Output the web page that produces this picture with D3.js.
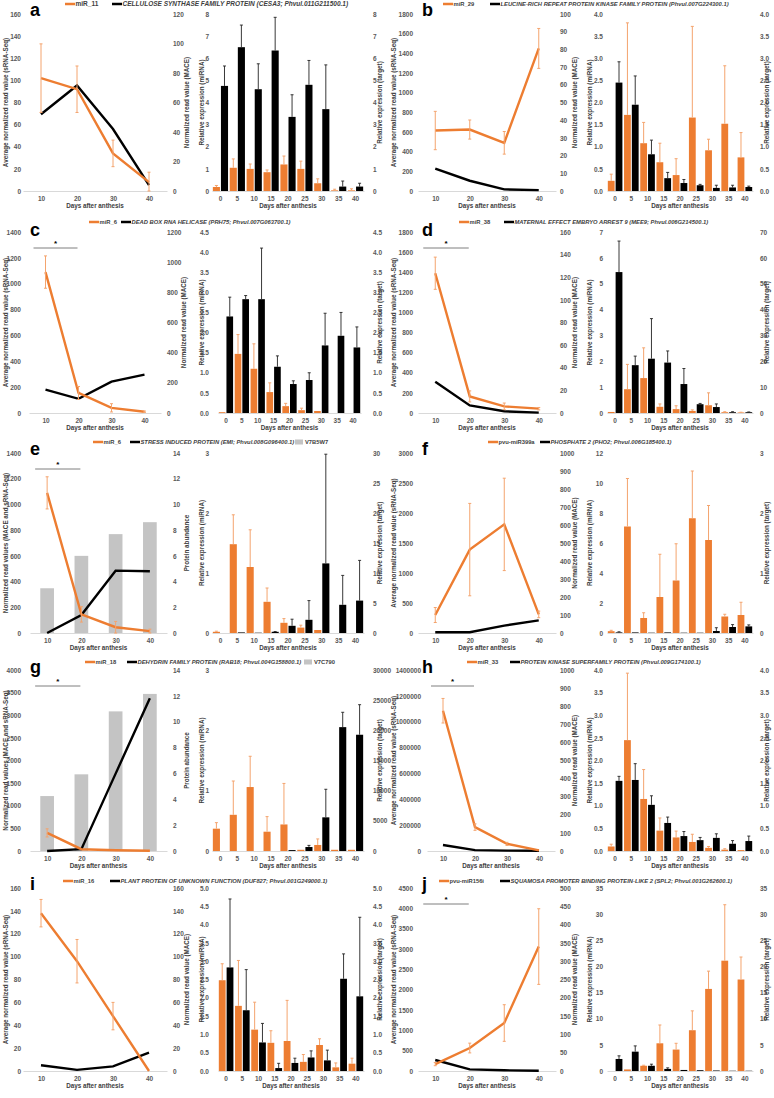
<!DOCTYPE html>
<html><head><meta charset="utf-8">
<script src="https://cdn.jsdelivr.net/npm/d3@7"></script>
<style>body{margin:0;background:#fff} text{font-family:"Liberation Sans",Arial,sans-serif}</style>
</head><body>
<script>
// ---------- shared categories ----------
const lineDays = ["10","20","30","40"];
const barDays = ["0","5","10","15","20","25","30","35","40"];

// ---------- panel a ----------
const aMir = "miR_11";
const aGene = "CELLULOSE SYNTHASE FAMILY PROTEIN (CESA3; Phvul.011G211500.1)";
const aLineMir = [102, 92, 34, 8];
const aLineMirErr = [31, 21, 12, 9];
const aLineTgt = [52, 71.5, 42, 4];
const aBarMir = [0.18,1.05,1.0,0.85,1.2,1.0,0.35,0.03,0.03];
const aBarMirErr = [0.07,0.4,0.22,0.1,0.38,0.35,0.2,0.05,0.07];
const aBarTgt = [4.75,6.5,4.6,6.35,3.35,4.8,3.7,0.2,0.2];
const aBarTgtErr = [0.9,1.0,1.15,1.5,1.0,1.1,2.0,0.25,0.15];
const aTicks = {lineL:[160,20], lineR:[120,20], barL:[8,1], barR:[8,1]};

// ---------- panel b ----------
const bMir = "miR_29";
const bGene = "LEUCINE-RICH REPEAT PROTEIN KINASE FAMILY PROTEIN (Phvul.007G224300.1)";
const bLineMir = [615, 625, 490, 1450];
const bLineMirErr = [195, 97, 115, 203];
const bLineTgt = [12.7, 5.8, 0.9, 0.5];
const bBarMir = [0.23,1.72,1.08,0.65,0.36,1.66,0.92,1.52,0.76];
const bBarMirErr = [0.15,2.08,0.47,0.43,0.37,2.06,0.25,1.31,0.56];
const bBarTgt = [2.45,1.95,0.83,0.29,0.18,0.13,0.07,0.08,0.09];
const bBarTgtErr = [0.47,0.65,0.32,0.13,0.08,0.02,0.06,0.05,0.02];
const bTicks = {lineL:[1800,200], lineR:[100,10], barL:[4,0.5,1], barR:[4,0.5,1]};

// ---------- panel c ----------
const cMir = "miR_6";
const cGene = "DEAD BOX RNA HELICASE (PRH75; Phvul.007G063700.1)";
const cLineMir = [1090, 155, 40, 10];
const cLineMirErr = [125, 50, 32, 5];
const cLineTgt = [155, 94, 208, 254];
const cBarMir = [0.02,1.47,1.1,0.52,0.17,0.07,0.05,0,0];
const cBarMirErr = [0,0.48,0.62,0.23,0.07,0.05,0,0,0];
const cBarTgt = [2.4,2.83,2.83,1.15,0.72,0.82,1.68,1.92,1.63];
const cBarTgtErr = [0.48,0.09,1.27,0.27,0.08,0.18,0.8,0.58,0.51];
const cTicks = {lineL:[1400,200], lineR:[1200,200], barL:[4.5,0.5,1], barR:[4.5,0.5,1]};

// ---------- panel d ----------
const dMir = "miR_38";
const dGene = "MATERNAL EFFECT EMBRYO ARREST 9 (MEE9; Phvul.006G214500.1)";
const dLineMir = [1390, 165, 66, 43];
const dLineMirErr = [160, 55, 33, 12];
const dLineTgt = [27.7, 6.7, 1.5, 0.3];
const dBarMir = [0.04,0.92,1.35,0.24,0.15,0.08,0.3,0.03,0.02];
const dBarMirErr = [0,0.96,1.17,0.11,0.13,0.04,0.48,0.02,0.01];
const dBarTgt = [54.5,18.5,21,19.5,11.2,3.4,2.3,0.3,0.3];
const dBarTgtErr = [12,3.5,15.5,4.5,6,0.3,1.2,0.2,0.1];
const dTicks = {lineL:[1800,200], lineR:[160,20], barL:[7,1], barR:[70,10]};

// ---------- panel e ----------
const eMir = "miR_6";
const eGene = "STRESS INDUCED PROTEIN (EMI; Phvul.008G096400.1)";
const eProt = "V7B5W7";
const eProtAbund = [3.48, 6.0, 7.69, 8.62];
const eLineMir = [1090, 145, 45, 15];
const eLineMirErr = [125, 60, 45, 15];
const eLineTgt = [0, 140, 485, 480];
const eBarMir = [0.02,1.48,1.1,0.52,0.17,0.09,0.05,0,0];
const eBarMirErr = [0.01,0.49,0.62,0.23,0.07,0.04,0,0,0];
const eBarTgt = [0,0.1,0.05,0.2,1.2,2.2,11.6,4.7,5.4];
const eBarTgtErr = [0,0,0,0.05,1.1,3.2,18.2,4.9,6.7];
const eTicks = {lineL:[1400,200], lineR:[14,2], barL:[3,1], barR:[30,5]};

// ---------- panel f ----------
const fMir = "pvu-miR399a";
const fGene = "PHOSPHATE 2 (PHO2; Phvul.006G185400.1)";
const fLineMir = [300, 1390, 1810, 310];
const fLineMirErr = [125, 770, 770, 55];
const fLineTgt = [4, 4, 41, 70];
const fBarMir = [0.12,7.1,1.0,2.4,3.5,7.65,6.2,1.1,1.2];
const fBarMirErr = [0.06,3.2,0.35,2.85,2.45,3.15,2.3,0.15,0.85];
const fBarTgt = [0.01,0.01,0.005,0.01,0.005,0.005,0.033,0.1,0.11];
const fBarTgtErr = [0.01,0,0,0,0,0,0.055,0.04,0.025];
const fTicks = {lineL:[3000,500], lineR:[1000,100], barL:[12,2], barR:[3,1]};

// ---------- panel g ----------
const gMir = "miR_18";
const gGene = "DEHYDRIN FAMILY PROTEIN (RAB18; Phvul.004G158800.1)";
const gProt = "V7C790";
const gProtAbund = [4.25, 5.93, 10.8, 12.15];
const gLineMir = [400, 40, 15, 5];
const gLineMirErr = [90, 0, 0, 0];
const gLineTgt = [0, 40, 1710, 3375];
const gBarMir = [0.37,0.6,1.06,0.32,0.44,0.02,0.1,0.02,0.02];
const gBarMirErr = [0.1,0.56,0.51,0.25,0.68,0,0.1,0,0];
const gBarTgt = [0,0,0,0,150,660,5580,20530,19270];
const gBarTgtErr = [0,0,0,0,0,270,4650,2460,4980];
const gTicks = {lineL:[4000,500], lineR:[14,2], barL:[3,1], barR:[30000,5000]};

// ---------- panel h ----------
const hMir = "miR_33";
const hGene = "PROTEIN KINASE SUPERFAMILY PROTEIN (Phvul.009G174100.1)";
const hLineMir = [1085000, 185000, 55000, 5000];
const hLineMirErr = [95000, 25000, 12000, 0];
const hLineTgt = [33, 5, 2, 1];
const hBarMir = [0.1,2.45,1.15,0.45,0.3,0.2,0.07,0.03,0.02];
const hBarMirErr = [0.05,1.48,0.65,0.28,0.14,0.17,0.03,0.02,0];
const hBarTgt = [1.55,1.57,1.02,0.62,0.33,0.24,0.29,0.16,0.22];
const hBarTgtErr = [0.1,0.36,0.2,0.13,0.1,0.06,0.09,0.07,0.11];
const hTicks = {lineL:[1400000,200000], lineR:[1000,100], barL:[4,0.5,1], barR:[4,0.5,1]};

// ---------- panel i ----------
const iMir = "miR_16";
const iGene = "PLANT PROTEIN OF UNKNOWN FUNCTION (DUF827; Phvul.001G249000.1)";
const iLineMir = [138, 96, 48, 0];
const iLineMirErr = [12, 19, 12, 0];
const iLineTgt = [5, 1, 4, 16];
const iBarMir = [2.48,1.78,1.13,0.77,0.82,0.25,0.71,0.1,0.2];
const iBarMirErr = [0.45,1.24,0.75,0.33,1.11,0.2,0.17,0.12,0.15];
const iBarTgt = [2.83,1.66,0.78,0.08,0.22,0.37,0.29,2.52,2.04];
const iBarTgtErr = [1.87,1.11,0.52,0.13,0.13,0.18,0.28,0.68,2.16];
const iTicks = {lineL:[160,20], lineR:[160,20], barL:[5,0.5,1], barR:[5,0.5,1]};

// ---------- panel j ----------
const jMir = "pvu-miR156i";
const jGene = "SQUAMOSA PROMOTER BINDING PROTEIN-LIKE 2 (SPL2; Phvul.001G262600.1)";
const jLineMir = [170, 565, 1180, 3060];
const jLineMirErr = [40, 120, 450, 930];
const jLineTgt = [30, 4.5, 2, 0.5];
const jBarMir = [0,0.3,1.0,5.3,4.1,7.8,15.7,21.1,17.5];
const jBarMirErr = [0,0,0.1,3.5,1.2,3.7,3.4,10.7,4.3];
const jBarTgt = [2.3,3.7,1.0,0.4,0.2,0.15,0.1,0.05,0.05];
const jBarTgtErr = [0.6,1.1,0.3,0.2,0,0,0,0,0];
const jTicks = {lineL:[4500,500], lineR:[500,50], barL:[35,5], barR:[35,5]};

// ---------- titles ----------
const tLineL = "Average normalized read value (sRNA-Seq)";
const tLineLProt = "Normalized read values (MACE and sRNA-Seq)";
const tLineR = "Normalized read value (MACE)";
const tLineRProt = "Protein abundance";
const tBarL = "Relative expression (miRNA)";
const tBarR = "Relative expression (target)";
const tX = "Days after anthesis";

const panels = [
  {id:"a", mir:aMir, gene:aGene, lm:aLineMir, lme:aLineMirErr, lt:aLineTgt, bm:aBarMir, bme:aBarMirErr, bt:aBarTgt, bte:aBarTgtErr, ticks:aTicks},
  {id:"b", mir:bMir, gene:bGene, lm:bLineMir, lme:bLineMirErr, lt:bLineTgt, bm:bBarMir, bme:bBarMirErr, bt:bBarTgt, bte:bBarTgtErr, ticks:bTicks},
  {id:"c", mir:cMir, gene:cGene, lm:cLineMir, lme:cLineMirErr, lt:cLineTgt, bm:cBarMir, bme:cBarMirErr, bt:cBarTgt, bte:cBarTgtErr, ticks:cTicks, sig:true},
  {id:"d", mir:dMir, gene:dGene, lm:dLineMir, lme:dLineMirErr, lt:dLineTgt, bm:dBarMir, bme:dBarMirErr, bt:dBarTgt, bte:dBarTgtErr, ticks:dTicks, sig:true},
  {id:"e", mir:eMir, gene:eGene, prot:eProt, pa:eProtAbund, lm:eLineMir, lme:eLineMirErr, lt:eLineTgt, bm:eBarMir, bme:eBarMirErr, bt:eBarTgt, bte:eBarTgtErr, ticks:eTicks, sig:true},
  {id:"f", mir:fMir, gene:fGene, lm:fLineMir, lme:fLineMirErr, lt:fLineTgt, bm:fBarMir, bme:fBarMirErr, bt:fBarTgt, bte:fBarTgtErr, ticks:fTicks},
  {id:"g", mir:gMir, gene:gGene, prot:gProt, pa:gProtAbund, lm:gLineMir, lme:gLineMirErr, lt:gLineTgt, bm:gBarMir, bme:gBarMirErr, bt:gBarTgt, bte:gBarTgtErr, ticks:gTicks, sig:true},
  {id:"h", mir:hMir, gene:hGene, lm:hLineMir, lme:hLineMirErr, lt:hLineTgt, bm:hBarMir, bme:hBarMirErr, bt:hBarTgt, bte:hBarTgtErr, ticks:hTicks, sig:true},
  {id:"i", mir:iMir, gene:iGene, lm:iLineMir, lme:iLineMirErr, lt:iLineTgt, bm:iBarMir, bme:iBarMirErr, bt:iBarTgt, bte:iBarTgtErr, ticks:iTicks},
  {id:"j", mir:jMir, gene:jGene, lm:jLineMir, lme:jLineMirErr, lt:jLineTgt, bm:jBarMir, bme:jBarMirErr, bt:jBarTgt, bte:jBarTgtErr, ticks:jTicks, sig:true}
];

// ---------- layout (positions only) ----------
const rowTop = [14, 232, 453, 670, 888];
const rowBot = [191, 413, 633, 851, 1071];
const rowLegend = [4, 222, 442, 662, 881];
const rowLetter = [16, 236, 455, 673, 890];
const colLayout = [
  {lineX:[23,167], lLab:21, lTitle:6, rLab:173, rTitle:187, barX:[212,364], bLab:209, bTitle:202, brLab:373, brTitle:380, letterX:30},
  {lineX:[418,556], lLab:413, lTitle:394, rLab:560, rTitle:575, barX:[607,753], bLab:603, bTitle:590, brLab:760, brTitle:767, letterX:422}
];
const overrides = {
  c:{lineX:[29,161], rLab:167, rTitle:184, barX:[218,361]},
  e:{lineX:[30,167]},
  g:{lineX:[30,167]},
  h:{lineX:[427,555], lLab:421},
  i:{barX:[218,364]}
};
const legendX = {a:[65,112], b:[443,490], c:[89,121], d:[459,504], e:[93,130,295], f:[488,540], g:[85,127,304], h:[467,510], i:[63,110], j:[439,500]};
const legendFont = {a:6.5};

const ORANGE = "#ED7D31", ORANGE_ERR = "#F4A46E", GRAY_BAR = "#C4C4C4", AXIS = "#D9D9D9", TXT = "#595959";

const svg = d3.select("body").append("svg").attr("width", 774).attr("height", 1098);

function ticksOf(spec){ return d3.range(0, spec[0] + spec[1]/2, spec[1]); }
function fmtOf(spec){ return spec[2] ? d3.format(".1f") : d3.format("d"); }

function yAxis(g, scale, spec, x, side){
  const ax = (side === "left" ? d3.axisLeft(scale) : d3.axisRight(scale))
    .tickValues(ticksOf(spec)).tickFormat(fmtOf(spec)).tickSize(0).tickPadding(0);
  const a = g.append("g").attr("transform", `translate(${x},0)`).call(ax);
  a.select(".domain").remove();
  a.selectAll("text").attr("fill", TXT).style("font-size", "6.5px").style("font-weight", "bold").attr("dy", "0.33em");
}
function xAxis(g, scale, y){
  const a = g.append("g").attr("transform", `translate(0,${y})`)
    .call(d3.axisBottom(scale).tickSize(0).tickSizeOuter(0).tickPadding(5));
  a.select(".domain").attr("stroke", AXIS).attr("stroke-width", 1);
  a.selectAll("text").attr("fill", TXT).style("font-size", "6.5px").style("font-weight", "bold");
}
function vTitle(g, text, x, cy){
  g.append("text").attr("transform", `translate(${x},${cy}) rotate(-90)`)
    .attr("text-anchor", "middle").attr("dy", "0.35em")
    .attr("fill", "#404040").style("font-size", "6.3px").style("font-weight", "bold").text(text);
}
function hTitle(g, text, cx, y){
  g.append("text").attr("x", cx).attr("y", y).attr("text-anchor", "middle")
    .attr("fill", "#404040").style("font-size", "6.3px").style("font-weight", "bold").text(text);
}

panels.forEach((p, idx) => {
  const col = idx % 2, row = Math.floor(idx / 2);
  const L = Object.assign({}, colLayout[col], overrides[p.id] || {});
  const top = rowTop[row], bot = rowBot[row], mid = (top + bot) / 2;
  const g = svg.append("g");

  // panel letter
  g.append("text").attr("x", L.letterX).attr("y", rowLetter[row])
    .style("font-size", "18px").style("font-weight", "bold").attr("fill", "#000").text(p.id);

  // legend
  const lx = legendX[p.id], ly = rowLegend[row], lf = (legendFont[p.id] || 5.8) + "px";
  g.append("line").attr("x1", lx[0]).attr("x2", lx[0] + 10).attr("y1", ly).attr("y2", ly).attr("stroke", ORANGE).attr("stroke-width", 2.5);
  g.append("text").attr("x", lx[0] + 10.5).attr("y", ly).attr("dy", "0.35em").style("font-size", lf).style("font-weight", "bold").attr("fill", "#404040").text(p.mir);
  g.append("line").attr("x1", lx[1]).attr("x2", lx[1] + 10).attr("y1", ly).attr("y2", ly).attr("stroke", "#000").attr("stroke-width", 2.5);
  g.append("text").attr("x", lx[1] + 10.5).attr("y", ly).attr("dy", "0.35em").style("font-size", lf).style("font-weight", "bold").style("font-style", "italic").attr("fill", "#404040").text(p.gene);
  if (p.prot) {
    g.append("rect").attr("x", lx[2]).attr("y", ly - 2.5).attr("width", 8).attr("height", 5).attr("fill", GRAY_BAR);
    g.append("text").attr("x", lx[2] + 10).attr("y", ly).attr("dy", "0.35em").style("font-size", lf).style("font-weight", "bold").attr("fill", "#404040").text(p.prot);
  }

  // ---------- line chart ----------
  const x = d3.scalePoint().domain(lineDays).range(L.lineX).padding(0.5);
  const yL = d3.scaleLinear().domain([0, p.ticks.lineL[0]]).range([bot, top]);
  const yR = d3.scaleLinear().domain([0, p.ticks.lineR[0]]).range([bot, top]);
  const yTgt = p.prot ? yL : yR;

  if (p.prot) {
    const gw = x.step() * 0.4;
    g.selectAll(null).data(lineDays).enter().append("rect")
      .attr("x", d => x(d) - gw/2).attr("width", gw)
      .attr("y", (d,i) => yR(p.pa[i])).attr("height", (d,i) => bot - yR(p.pa[i]))
      .attr("fill", GRAY_BAR);
  }
  xAxis(g, x, bot);
  yAxis(g, yL, p.ticks.lineL, L.lLab, "left");
  yAxis(g, yR, p.ticks.lineR, L.rLab, "right");
  vTitle(g, p.prot ? tLineLProt : tLineL, L.lTitle, mid);
  vTitle(g, p.prot ? tLineRProt : tLineR, L.rTitle, mid);
  hTitle(g, tX, (L.lineX[0] + L.lineX[1]) / 2, bot + 17);

  g.append("path").datum(lineDays.map((k,i) => ({k, v:p.lt[i]})))
    .attr("d", d3.line().x(d => x(d.k)).y(d => yTgt(d.v))).attr("fill", "none").attr("stroke", "#000").attr("stroke-width", 2.4);
  g.append("path").datum(lineDays.map((k,i) => ({k, v:p.lm[i]})))
    .attr("d", d3.line().x(d => x(d.k)).y(d => yL(d.v))).attr("fill", "none").attr("stroke", ORANGE).attr("stroke-width", 2.4);
  lineDays.forEach((k,i) => {
    const e = p.lme[i]; if (!e) return;
    const cx = x(k), y1 = yL(Math.max(0, p.lm[i] - e)), y2 = yL(p.lm[i] + e);
    g.append("line").attr("x1", cx).attr("x2", cx).attr("y1", y1).attr("y2", y2).attr("stroke", ORANGE_ERR).attr("stroke-width", 1);
    [y1, y2].forEach(yy => g.append("line").attr("x1", cx - 1.5).attr("x2", cx + 1.5).attr("y1", yy).attr("y2", yy).attr("stroke", ORANGE_ERR).attr("stroke-width", 1));
  });

  if (p.sig) {
    const sy = top + 16, sx1 = x("10") - 12, sx2 = x("20") - 1;
    g.append("line").attr("x1", sx1).attr("x2", sx2).attr("y1", sy).attr("y2", sy).attr("stroke", "#7F7F7F").attr("stroke-width", 1);
    g.append("text").attr("x", (sx1 + sx2) / 2).attr("y", sy - 2).attr("text-anchor", "middle").style("font-size", "8px").style("font-weight", "bold").text("*");
  }

  // ---------- bar chart ----------
  const xb = d3.scaleBand().domain(barDays).range(L.barX).paddingInner(0.1).paddingOuter(0.05);
  const ybL = d3.scaleLinear().domain([0, p.ticks.barL[0]]).range([bot, top]);
  const ybR = d3.scaleLinear().domain([0, p.ticks.barR[0]]).range([bot, top]);
  const half = xb.bandwidth() / 2;
  const bw = half - 0.5;

  xAxis(g, xb, bot);
  yAxis(g, ybL, p.ticks.barL, L.bLab, "left");
  yAxis(g, ybR, p.ticks.barR, L.brLab, "right");
  vTitle(g, tBarL, L.bTitle, mid);
  vTitle(g, tBarR, L.brTitle, mid);
  hTitle(g, tX, (L.barX[0] + L.barX[1]) / 2, bot + 17);

  const series = [
    {vals:p.bm, errs:p.bme, y:ybL, dx:0, fill:ORANGE, ec:ORANGE_ERR, ew:1},
    {vals:p.bt, errs:p.bte, y:ybR, dx:half + 0.5, fill:"#000", ec:"#222", ew:0.9}
  ];
  series.forEach(s => {
    g.selectAll(null).data(barDays).enter().append("rect")
      .attr("x", d => xb(d) + s.dx).attr("width", bw)
      .attr("y", (d,i) => s.y(s.vals[i])).attr("height", (d,i) => bot - s.y(s.vals[i]))
      .attr("fill", s.fill);
    barDays.forEach((d,i) => {
      const e = s.errs[i]; if (!e) return;
      const cx = xb(d) + s.dx + bw/2, y1 = s.y(s.vals[i]), y2 = s.y(s.vals[i] + e);
      g.append("line").attr("x1", cx).attr("x2", cx).attr("y1", y1).attr("y2", y2).attr("stroke", s.ec).attr("stroke-width", s.ew);
      g.append("line").attr("x1", cx - 1.5).attr("x2", cx + 1.5).attr("y1", y2).attr("y2", y2).attr("stroke", s.ec).attr("stroke-width", s.ew);
    });
  });
});
</script>
</body></html>
